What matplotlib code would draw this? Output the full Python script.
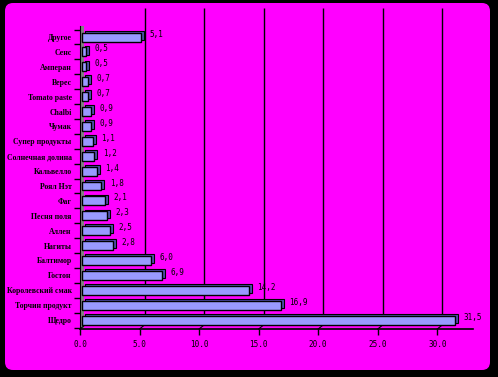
import matplotlib
matplotlib.use("Agg")
import matplotlib.pyplot as plt
from matplotlib.patches import FancyBboxPatch, Rectangle
import numpy as np

categories = ["Другое", "Сенс", "Амперан", "Верес", "Tomato paste", "Chalbi", "Чумак",
              "Супер продукты", "Солнечная долина", "Кальвелло", "Роял Нэт", "Фаг",
              "Песня поля", "Аллен", "Нагиты", "Балтимор", "Гостон",
              "Королевский смак", "Торчин продукт", "Щедро"]
values = [5.1, 0.5, 0.5, 0.7, 0.7, 0.9, 0.9, 1.1, 1.2, 1.4, 1.8, 2.1, 2.3, 2.5, 2.8,
          6.0, 6.9, 14.2, 16.9, 31.5]
xticks = [0, 5, 10, 15, 20, 25, 30]

W, H = 498, 377
fig = plt.figure(figsize=(W / 100, H / 100), dpi=100, facecolor="black")
bgax = fig.add_axes([0, 0, 1, 1], zorder=-10)
bgax.set_xlim(0, W)
bgax.set_ylim(H, 0)
bgax.axis("off")
bgax.add_patch(FancyBboxPatch((5, 3), W - 13, H - 10,
                              boxstyle="round,pad=0,rounding_size=8",
                              facecolor="#FF00FF", edgecolor="none"))

x0, x1 = 80, 473
ytop, ybot = 8, 329
ax = fig.add_axes([x0 / W, 1 - ybot / H, (x1 - x0) / W, (ybot - ytop) / H], zorder=1)
ax.patch.set_alpha(0)

n = len(categories)
ypos = np.arange(n)[::-1]  # first category at top
ax.set_xlim(0, 33)
ax.set_ylim(-0.6, n - 1 + 1.95)

depth_x, depth_y = 0.42, 0.27

# grey side wall
ax.add_patch(Rectangle((0, -0.6), 0.35, n - 1 + 0.6 + 0.75, facecolor="#808080",
                       edgecolor="none", zorder=1))

# back-wall gridlines (offset by the 3D depth)
for x in xticks[1:]:
    ax.plot([x + depth_x, x + depth_x], [-0.6 + depth_y, n - 1 + 1.95], color="black",
            lw=1.0, zorder=1, solid_capstyle="butt")
# diagonal floor ticks
for x in xticks:
    ax.plot([x, x + depth_x], [-0.6, -0.6 + depth_y], color="black", lw=0.8,
            zorder=1, clip_on=False)

dx, dy = 0.25, 0.12
bh = 0.6
for y, v in zip(ypos, values):
    ax.add_patch(Rectangle((0.15 + dx, y - bh / 2 + dy), v - 0.15, bh, facecolor="#5050B0",
                           edgecolor="black", lw=0.8, zorder=2))
    ax.add_patch(Rectangle((0.15, y - bh / 2), v - 0.15, bh, facecolor="#9999FF",
                           edgecolor="black", lw=1.0, zorder=3))
    ax.text(v + dx + 0.45, y + 0.2, f"{v:.1f}".replace(".", ","), fontsize=5.5,
            family="DejaVu Sans Mono", va="center", ha="left", zorder=4)

ax.set_yticks(ypos)
ax.set_yticklabels(categories, fontsize=5.6, family="Liberation Serif", fontweight="bold")
ax.tick_params(axis="y", length=0, pad=6)
ax.set_yticks(np.arange(-0.5, n, 1), minor=True)
ax.tick_params(axis="y", which="minor", length=4, width=1, color="black")

ax.set_xticks(xticks)
ax.set_xticklabels([f"{x:.1f}" for x in xticks], fontsize=5.5, family="DejaVu Sans Mono")
ax.tick_params(axis="x", length=4, width=1, color="black", pad=4)

for s in ["top", "right"]:
    ax.spines[s].set_visible(False)
ax.spines["left"].set_bounds(-0.6, n - 1 + 0.75)
ax.spines["left"].set_color("black")
ax.spines["bottom"].set_color("black")
ax.spines["bottom"].set_linewidth(1.2)

fig.savefig("out.png", dpi=100, facecolor="black")
